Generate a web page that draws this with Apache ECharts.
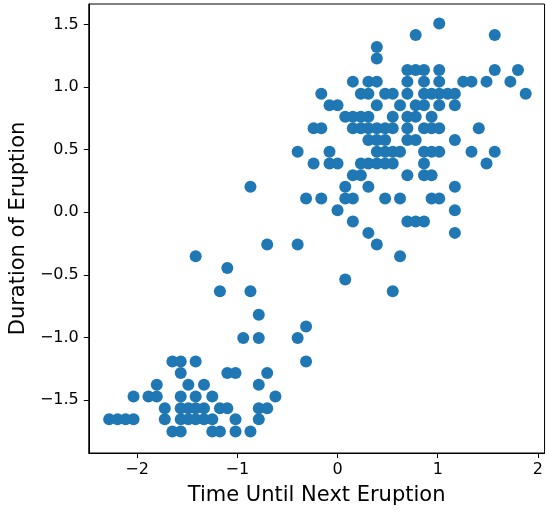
<!DOCTYPE html>
<html>
<head>
<meta charset="utf-8">
<script src="https://cdn.jsdelivr.net/npm/echarts@6/dist/echarts.min.js"></script>
<style>
  html, body { margin: 0; padding: 0; background: #fff; }
  #chart { width: 546px; height: 515px; }
</style>
</head>
<body>
<div id="chart"></div>
<script>
// Standardized waiting time (x) and eruption duration (y), one line per duration level
const timeUntilNext = [
  1.015,
  0.780, 1.569,
  0.392,
  0.392,
  0.697, 0.780, 0.863, 1.015, 1.569, 1.801,
  0.153, 0.308, 0.392, 0.697, 0.863, 1.015, 1.254, 1.337, 1.487, 1.725,
  -0.162, 0.233, 0.308, 0.475, 0.551, 0.697, 0.863, 0.939, 1.015, 1.099, 1.171, 1.878,
  -0.080, 0.000, 0.392, 0.624, 0.780, 0.863, 1.015, 1.171,
  0.077, 0.153, 0.233, 0.308, 0.551, 0.697, 0.780, 0.939,
  -0.239, -0.162, 0.153, 0.233, 0.308, 0.392, 0.475, 0.551, 0.697, 0.863, 0.939, 1.015, 1.410,
  0.308, 0.392, 0.475, 0.697, 0.780, 1.171,
  -0.398, -0.080, 0.392, 0.475, 0.551, 0.624, 0.863, 0.939, 1.015, 1.337, 1.569,
  -0.239, -0.080, 0.000, 0.233, 0.308, 0.392, 0.475, 0.551, 0.863, 1.487,
  0.153, 0.233, 0.697, 0.863, 0.939,
  -0.869, 0.077, 0.308, 1.171,
  -0.314, -0.162, 0.077, 0.153, 0.475, 0.624, 0.939, 1.015,
  0.000, 1.171,
  0.153, 0.697, 0.780, 0.863,
  0.308, 1.171,
  -0.702, -0.398, 0.392,
  -1.416, 0.624,
  -1.100,
  0.077,
  -1.174, -0.869, 0.551,
  -0.786,
  -0.314,
  -0.941, -0.786, -0.398,
  -1.648, -1.565, -1.416, -0.314,
  -1.565, -1.100, -1.018, -0.702,
  -1.804, -1.489, -1.333, -0.786,
  -2.036, -1.887, -1.804, -1.565, -1.416, -1.250, -0.620,
  -1.724, -1.565, -1.489, -1.416, -1.333, -1.174, -1.100, -0.786, -0.702,
  -2.279, -2.195, -2.115, -2.036, -1.724, -1.565, -1.489, -1.416, -1.333, -1.250, -1.018, -0.786,
  -1.648, -1.565, -1.250, -1.174, -1.018, -0.869
];

const durationOfEruption = [
  1.507,
  1.416, 1.416,
  1.320,
  1.227,
  1.136, 1.136, 1.136, 1.136, 1.136, 1.136,
  1.043, 1.043, 1.043, 1.043, 1.043, 1.043, 1.043, 1.043, 1.043, 1.043,
  0.947, 0.947, 0.947, 0.947, 0.947, 0.947, 0.947, 0.947, 0.947, 0.947, 0.947, 0.947,
  0.854, 0.854, 0.854, 0.854, 0.854, 0.854, 0.854, 0.854,
  0.763, 0.763, 0.763, 0.763, 0.763, 0.763, 0.763, 0.763,
  0.670, 0.670, 0.670, 0.670, 0.670, 0.670, 0.670, 0.670, 0.670, 0.670, 0.670, 0.670, 0.670,
  0.576, 0.576, 0.576, 0.576, 0.576, 0.576,
  0.483, 0.483, 0.483, 0.483, 0.483, 0.483, 0.483, 0.483, 0.483, 0.483, 0.483,
  0.390, 0.390, 0.390, 0.390, 0.390, 0.390, 0.390, 0.390, 0.390, 0.390,
  0.296, 0.296, 0.296, 0.296, 0.296,
  0.203, 0.203, 0.203, 0.203,
  0.110, 0.110, 0.110, 0.110, 0.110, 0.110, 0.110, 0.110,
  0.016, 0.016,
  -0.074, -0.074, -0.074, -0.074,
  -0.165, -0.165,
  -0.258, -0.258, -0.258,
  -0.352, -0.352,
  -0.446,
  -0.538,
  -0.632, -0.632, -0.632,
  -0.818,
  -0.912,
  -1.005, -1.005, -1.005,
  -1.192, -1.192, -1.192, -1.192,
  -1.285, -1.285, -1.285, -1.285,
  -1.378, -1.378, -1.378, -1.378,
  -1.472, -1.472, -1.472, -1.472, -1.472, -1.472, -1.472,
  -1.565, -1.565, -1.565, -1.565, -1.565, -1.565, -1.565, -1.565, -1.565,
  -1.653, -1.653, -1.653, -1.653, -1.653, -1.653, -1.653, -1.653, -1.653, -1.653, -1.653, -1.653,
  -1.752, -1.752, -1.752, -1.752, -1.752, -1.752
];

const xTickValues = [-2, -1, 0, 1, 2];
const yTickValues = [-1.5, -1.0, -0.5, 0.0, 0.5, 1.0, 1.5];

const xAxisTitle = 'Time Until Next Eruption';
const yAxisTitle = 'Duration of Eruption';

const points = timeUntilNext.map((x, i) => [x, durationOfEruption[i]]);

const FONT = 'DejaVu Sans';
const minus = (s) => s.replace('-', '\u2212');

const chart = echarts.init(document.getElementById('chart'), null, { renderer: 'canvas' });

chart.setOption({
  animation: false,
  backgroundColor: '#ffffff',
  grid: {
    left: 88, top: 4, width: 457, height: 449,
    show: true, borderColor: '#000', borderWidth: 1, backgroundColor: 'transparent'
  },
  xAxis: {
    type: 'value',
    min: -2.483, max: 2.066,
    name: xAxisTitle,
    nameLocation: 'middle',
    nameGap: 32,
    nameTextStyle: { fontFamily: FONT, fontSize: 21, color: '#000' },
    axisLine: { show: true, onZero: false, lineStyle: { color: '#000', width: 1 } },
    axisTick: { show: true, length: 5, lineStyle: { color: '#000', width: 1 }, customValues: xTickValues },
    axisLabel: {
      margin: 9, fontFamily: FONT, fontSize: 16, color: '#000',
      customValues: xTickValues,
      formatter: (v) => minus(String(Math.round(v)))
    },
    splitLine: { show: false }
  },
  yAxis: {
    type: 'value',
    min: -1.923, max: 1.663,
    name: yAxisTitle,
    nameLocation: 'middle',
    nameGap: 57,
    nameRotate: 90,
    nameTextStyle: { fontFamily: FONT, fontSize: 21, color: '#000' },
    axisLine: { show: true, onZero: false, lineStyle: { color: '#000', width: 1 } },
    axisTick: { show: true, length: 5, lineStyle: { color: '#000', width: 1 }, customValues: yTickValues },
    axisLabel: {
      margin: 10, fontFamily: FONT, fontSize: 16, color: '#000',
      customValues: yTickValues,
      formatter: (v) => minus(v.toFixed(1))
    },
    splitLine: { show: false }
  },
  series: [{
    type: 'scatter',
    data: points,
    symbol: 'circle',
    symbolSize: 12,
    itemStyle: { color: '#1f77b4', opacity: 1 },
    emphasis: { disabled: true }
  }]
});
</script>
</body>
</html>
